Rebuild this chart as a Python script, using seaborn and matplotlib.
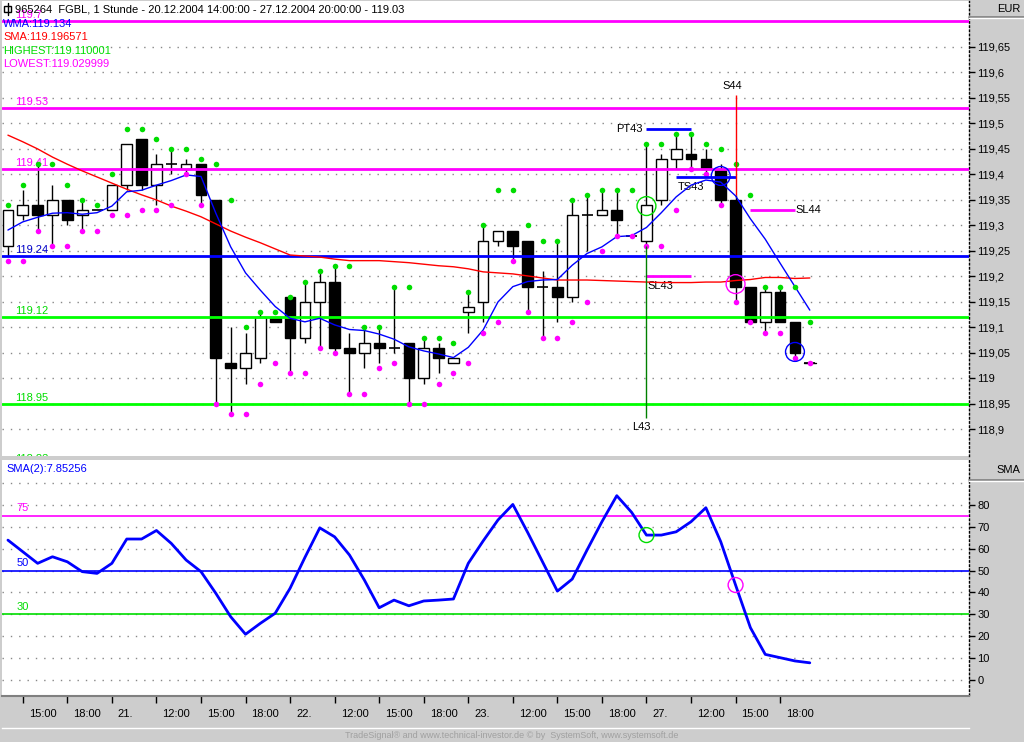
import matplotlib
matplotlib.use('Agg')
import matplotlib.pyplot as plt
import matplotlib.transforms as mtransforms
from matplotlib.lines import Line2D
import numpy as np
import pandas as pd
import seaborn as sns

# ---------------- data ----------------
opens = [119.26, 119.32, 119.34, 119.32, 119.35, 119.32, 119.33, 119.33, 119.38, 119.47,
         119.38, 119.42, 119.41, 119.42, 119.35, 119.03, 119.02, 119.04, 119.12, 119.16,
         119.08, 119.15, 119.19, 119.06, 119.05, 119.07, 119.06, 119.07, 119.00, 119.06,
         119.03, 119.13, 119.15, 119.27, 119.29, 119.27, 119.18, 119.18, 119.16, 119.32,
         119.32, 119.33, 119.28, 119.27, 119.35, 119.43, 119.44, 119.43, 119.41, 119.35,
         119.18, 119.11, 119.17, 119.11, 119.03]
highs = [119.33, 119.37, 119.42, 119.38, 119.35, 119.35, 119.33, 119.38, 119.46, 119.47,
         119.44, 119.45, 119.43, 119.42, 119.35, 119.10, 119.09, 119.13, 119.12, 119.16,
         119.19, 119.21, 119.22, 119.09, 119.10, 119.10, 119.18, 119.07, 119.08, 119.07,
         119.04, 119.17, 119.30, 119.29, 119.29, 119.27, 119.21, 119.27, 119.35, 119.36,
         119.37, 119.37, 119.28, 119.46, 119.44, 119.48, 119.48, 119.45, 119.42, 119.36,
         119.18, 119.18, 119.18, 119.11, 119.03]
lows = [119.24, 119.31, 119.29, 119.26, 119.30, 119.29, 119.33, 119.33, 119.37, 119.37,
        119.34, 119.40, 119.40, 119.34, 118.95, 118.93, 118.99, 119.03, 119.11, 119.01,
        119.07, 119.06, 119.05, 118.97, 119.02, 119.03, 119.05, 118.95, 118.99, 119.01,
        119.03, 119.09, 119.11, 119.26, 119.23, 119.13, 119.08, 119.11, 119.15, 119.25,
        119.32, 119.28, 119.28, 119.26, 119.34, 119.41, 119.41, 119.40, 119.34, 119.15,
        119.11, 119.09, 119.11, 119.04, 119.03]
closes = [119.33, 119.34, 119.32, 119.35, 119.31, 119.33, 119.33, 119.38, 119.46, 119.38,
          119.42, 119.42, 119.42, 119.36, 119.04, 119.02, 119.05, 119.12, 119.11, 119.08,
          119.15, 119.19, 119.06, 119.05, 119.07, 119.06, 119.06, 119.00, 119.06, 119.04,
          119.04, 119.14, 119.27, 119.29, 119.26, 119.18, 119.18, 119.16, 119.32, 119.32,
          119.33, 119.31, 119.28, 119.34, 119.43, 119.45, 119.43, 119.41, 119.35, 119.18,
          119.11, 119.17, 119.11, 119.05, 119.03]
wma = [119.291, 119.307, 119.316, 119.324, 119.325, 119.322, 119.325, 119.338, 119.366, 119.369,
       119.379, 119.388, 119.399, 119.396, 119.324, 119.258, 119.207, 119.173, 119.141, 119.118,
       119.111, 119.118, 119.105, 119.096, 119.094, 119.087, 119.077, 119.062, 119.054, 119.048,
       119.041, 119.061, 119.095, 119.150, 119.180, 119.190, 119.193, 119.194, 119.222, 119.245,
       119.258, 119.278, 119.280, 119.296, 119.325, 119.356, 119.379, 119.389, 119.385, 119.358,
       119.313, 119.273, 119.226, 119.180, 119.134]
sma = [119.477, 119.464, 119.450, 119.434, 119.420, 119.407, 119.395, 119.383, 119.371, 119.360,
       119.350, 119.338, 119.328, 119.317, 119.303, 119.289, 119.277, 119.266, 119.254, 119.242,
       119.240, 119.238, 119.234, 119.231, 119.231, 119.231, 119.229, 119.227, 119.224, 119.221,
       119.219, 119.215, 119.209, 119.207, 119.205, 119.201, 119.197, 119.193, 119.193, 119.193,
       119.192, 119.191, 119.190, 119.189, 119.188, 119.188, 119.188, 119.189, 119.189, 119.192,
       119.194, 119.198, 119.198, 119.196, 119.197]
highest = [119.34, 119.38, 119.42, 119.42, 119.38, 119.35, 119.34, 119.40, 119.49, 119.49,
           119.47, 119.45, 119.45, 119.43, 119.42, 119.35, 119.10, 119.13, 119.13, 119.16,
           119.19, 119.21, 119.22, 119.22, 119.10, 119.10, 119.18, 119.18, 119.08, 119.08,
           119.07, 119.17, 119.30, 119.37, 119.37, 119.30, 119.27, 119.27, 119.35, 119.36,
           119.37, 119.37, 119.37, 119.46, 119.46, 119.48, 119.48, 119.46, 119.45, 119.42,
           119.36, 119.18, 119.18, 119.18, 119.11]
lowest = [119.23, 119.23, 119.29, 119.26, 119.26, 119.29, 119.29, 119.32, 119.32, 119.33,
          119.33, 119.34, 119.40, 119.34, 118.95, 118.93, 118.93, 118.99, 119.03, 119.01,
          119.01, 119.06, 119.05, 118.97, 118.97, 119.02, 119.03, 118.95, 118.95, 118.99,
          119.01, 119.03, 119.09, 119.11, 119.23, 119.13, 119.08, 119.08, 119.11, 119.15,
          119.25, 119.28, 119.28, 119.26, 119.26, 119.33, 119.41, 119.40, 119.34, 119.15,
          119.11, 119.09, 119.09, 119.04, 119.03]
osc = [63.9, 58.6, 53.3, 56.3, 54.0, 49.5, 48.7, 53.3, 64.4, 64.4,
       68.3, 62.4, 54.8, 49.5, 39.6, 28.9, 20.9, 25.9, 30.5, 41.9,
       56.0, 69.5, 65.4, 57.1, 45.7, 33.0, 36.5, 33.9, 36.1, 36.5,
       37.0, 53.3, 63.5, 73.1, 80.2, 67.4, 54.0, 40.6, 46.1, 59.4,
       72.3, 84.2, 76.6, 66.2, 66.2, 67.7, 72.3, 78.7, 63.2, 43.4,
       23.9, 11.7, 10.2, 8.7, 7.85]

time_tick_pos = [1, 4, 7, 10, 13, 16, 19, 22, 25, 28, 31, 34, 37, 40, 43, 46, 49, 52]
time_tick_labels = ['15:00', '18:00', '21.', '12:00', '15:00', '18:00', '22.', '12:00', '15:00',
                    '18:00', '23.', '12:00', '15:00', '18:00', '27.', '12:00', '15:00', '18:00']
price_ticks = [118.90, 118.95, 119.00, 119.05, 119.10, 119.15, 119.20, 119.25,
               119.30, 119.35, 119.40, 119.45, 119.50, 119.55, 119.60, 119.65]
price_tick_labels = ['118,9', '118,95', '119', '119,05', '119,1', '119,15', '119,2', '119,25',
                     '119,3', '119,35', '119,4', '119,45', '119,5', '119,55', '119,6', '119,65']
osc_ticks = [0, 10, 20, 30, 40, 50, 60, 70, 80]

levels = [119.70, 119.53, 119.41, 119.24, 119.12, 118.95, 118.83]
level_labels = ['119.7', '119.53', '119.41', '119.24', '119.12', '118.95', '118.83']
level_colors = ['#ff00ff', '#ff00ff', '#ff00ff', '#0000ff', '#00ff00', '#00ff00', '#00ff00']
level_text_colors = ['#ff00ff', '#ff00ff', '#ff00ff', '#0000c8', '#00dd00', '#00dd00', '#00dd00']

osc_levels = [75, 50, 30]
osc_level_colors = ['#ff00ff', '#0000ff', '#00dd00']

# trade markers: (name, start bar, end bar, price, colour)
seg_names = ['PT43', 'TS43', 'SL43', 'SL44']
seg_start = [43, 45, 43, 50]
seg_end = [46, 49, 46, 53]
seg_price = [119.49, 119.394, 119.20, 119.33]
seg_colors = ['#0000ff', '#0000ff', '#ff00ff', '#ff00ff']

entry_names = ['L43', 'S44']
entry_bar = [43, 49]
entry_from = [119.26, 119.36]
entry_to = [118.923, 119.556]
entry_colors = ['#008000', '#ff0000']

sig_bar = [43, 48, 49, 53]
sig_price = [119.338, 119.397, 119.185, 119.052]
sig_colors = ['#00dd00', '#0000ff', '#ff00ff', '#0000ff']
osc_sig_bar = [43, 49]
osc_sig_colors = ['#00dd00', '#ff00ff']

# ---------------- figure ----------------
W, H = 1024, 742
sns.set_theme(style='white')
plt.rcParams['font.family'] = ['Liberation Sans', 'DejaVu Sans']
BG = '#cdcdcd'
fig = plt.figure(figsize=(W / 100, H / 100), dpi=100, facecolor=BG)


def rect(l, t, r, b):
    return [l / W, 1 - b / H, (r - l) / W, (b - t) / H]


ax1 = fig.add_axes(rect(2, 1, 969, 456), facecolor='white')
ax2 = fig.add_axes(rect(2, 460, 969, 695), facecolor='white', sharex=ax1)
ax3 = fig.add_axes(rect(2, 696, 969, 728), facecolor=BG, sharex=ax1)

idx = np.arange(len(closes))
df = pd.DataFrame({'bar': idx, 'open': opens, 'high': highs, 'low': lows, 'close': closes,
                   'wma': wma, 'sma': sma, 'highest': highest, 'lowest': lowest, 'osc': osc})

# candles
for i, r in df.iterrows():
    if r['high'] > r['low']:
        ax1.vlines(r['bar'], r['low'], r['high'], color='black', lw=1, zorder=3)
    if abs(r['close'] - r['open']) < 1e-9:
        ax1.hlines(r['open'], r['bar'] - 0.37, r['bar'] + 0.37, color='black', lw=1.2, zorder=4)
    else:
        up = r['close'] > r['open']
        ax1.bar(r['bar'], abs(r['close'] - r['open']), bottom=min(r['open'], r['close']),
                width=0.72, color='white' if up else 'black', edgecolor='black',
                linewidth=1, zorder=4)

# level lines
for lv, lab, c, tc in zip(levels, level_labels, level_colors, level_text_colors):
    ax1.axhline(lv, color=c, lw=2, zorder=6)
    ax1.text(0.45, lv + 0.002, lab, color=tc, fontsize=8, ha='left', va='bottom',
             clip_on=True, zorder=6)

sns.lineplot(data=df, x='bar', y='sma', ax=ax1, color='#ff0000', lw=1, zorder=7)
sns.lineplot(data=df, x='bar', y='wma', ax=ax1, color='#0000ff', lw=1, zorder=7)
sns.scatterplot(data=df, x='bar', y='highest', ax=ax1, color='#00dd00', s=16,
                linewidth=0, zorder=8)
sns.scatterplot(data=df, x='bar', y='lowest', ax=ax1, color='#ff00ff', s=16,
                linewidth=0, zorder=8)
ax1.plot([idx[-1] - 0.4, idx[-1] + 0.4], [closes[-1], closes[-1]], color='black', lw=1, zorder=7)

# trade segments
for name, s0, s1, pr, c in zip(seg_names, seg_start, seg_end, seg_price, seg_colors):
    ax1.hlines(pr, s0, s1, color=c, lw=2, zorder=8)
for name, s0, s1, pr in zip(seg_names, seg_start, seg_end, seg_price):
    if name == 'PT43':
        ax1.text(s0 - 0.25, pr, name, fontsize=8, ha='right', va='center', color='black')
    elif name == 'SL44':
        ax1.text(s1 + 0.05, pr, name, fontsize=8, ha='left', va='center', color='black')
    else:
        ax1.text(s0 + 0.1, pr - 0.008, name, fontsize=8, ha='left', va='top', color='black')

for name, b, p0, p1, c in zip(entry_names, entry_bar, entry_from, entry_to, entry_colors):
    ax1.vlines(b, min(p0, p1), max(p0, p1), color=c, lw=1, zorder=8)
    if p1 < p0:
        ax1.text(b - 0.35, p1 - 0.008, name, fontsize=8, ha='center', va='top', color='black')
    else:
        ax1.text(b - 0.25, p1 + 0.008, name, fontsize=8, ha='center', va='bottom', color='black')

ax1.scatter(sig_bar, sig_price, s=185, facecolors='none', edgecolors=sig_colors,
            linewidths=1, zorder=9)

ax1.set_xlim(-0.4, 64.72)
ax1.set_ylim(118.848, 119.740)
ax1.set_xlabel('')
ax1.set_ylabel('')
ax1.yaxis.tick_right()
ax1.set_yticks(price_ticks)
ax1.set_yticklabels(price_tick_labels)
ax1.tick_params(axis='y', which='both', direction='out', length=4, width=1, pad=2,
                labelsize=8, colors='black', right=True, left=False)
ax1.tick_params(axis='x', bottom=False, labelbottom=False)
ax1.yaxis.grid(True, linestyle=(0, (1, 5)), color='#888888', lw=1)
ax1.xaxis.grid(False)

# ---------------- oscillator ----------------
for lv, c in zip(osc_levels, osc_level_colors):
    ax2.axhline(lv, color=c, lw=1.2, zorder=3)
    ax2.text(0.6, lv + 1.2, str(lv), color=c, fontsize=8, ha='left', va='bottom')
ax2.axhline(90, color='#888888', lw=1, linestyle=(0, (1, 5)), zorder=1)
sns.lineplot(data=df, x='bar', y='osc', ax=ax2, color='#0000ff', lw=2, zorder=5)
ax2.scatter(osc_sig_bar, [osc[b] for b in osc_sig_bar], s=115, facecolors='none',
            edgecolors=osc_sig_colors, linewidths=1, zorder=6)
ax2.text(0.005, 0.96, 'SMA(2):7.85256', transform=ax2.transAxes, color='#0000ff',
         fontsize=8, ha='left', va='center')
ax2.set_ylim(-6.85, 100.5)
ax2.set_xlabel('')
ax2.set_ylabel('')
ax2.yaxis.tick_right()
ax2.set_yticks(osc_ticks)
ax2.set_yticklabels([str(t) for t in osc_ticks])
ax2.tick_params(axis='y', direction='out', length=4, width=1, pad=2, labelsize=8,
                colors='black', right=True, left=False)
ax2.tick_params(axis='x', bottom=False, labelbottom=False)
ax2.yaxis.grid(True, linestyle=(0, (1, 5)), color='#888888', lw=1)
ax2.xaxis.grid(False)

for ax in (ax1, ax2):
    for s in ('left', 'top', 'bottom'):
        ax.spines[s].set_visible(False)
    ax.spines['right'].set_linestyle((0, (1, 2)))
    ax.spines['right'].set_color('black')
    ax.spines['right'].set_linewidth(1)

# ---------------- time axis strip ----------------
ax3.set_yticks([])
ax3.set_xticks(time_tick_pos)
ax3.tick_params(axis='x', top=True, bottom=False, direction='in', length=5, width=1,
                color='black', labeltop=False, labelbottom=False)
for s in ('left', 'right'):
    ax3.spines[s].set_visible(False)
ax3.spines['top'].set_color('#808080')
ax3.spines['top'].set_linewidth(1.5)
ax3.spines['bottom'].set_color('white')
ax3.spines['bottom'].set_linewidth(1)
tr = mtransforms.blended_transform_factory(ax3.transData, ax3.transAxes) + \
    mtransforms.ScaledTranslation(6 / 100, 0, fig.dpi_scale_trans)
for p, lab in zip(time_tick_pos, time_tick_labels):
    ax3.text(p, 0.45, lab, transform=tr, fontsize=8, ha='left', va='center', color='black')

# ---------------- header / legend texts ----------------
def ftext(x, y, s, **kw):
    fig.text(x / W, 1 - y / H, s, **kw)


ftext(15, 9, '965264  FGBL, 1 Stunde - 20.12.2004 14:00:00 - 27.12.2004 20:00:00 - 119.03',
      fontsize=8, color='black', va='center', ha='left')
fig.add_artist(plt.Rectangle((4 / W, 1 - 12 / H), 7 / W, 6 / H, fill=False,
                             edgecolor='black', lw=1, transform=fig.transFigure))
fig.add_artist(Line2D([7.5 / W, 7.5 / W], [1 - 3 / H, 1 - 15 / H], color='black', lw=1,
                      transform=fig.transFigure))
ftext(3, 24, 'WMA:119.134', fontsize=8, color='#0000ff', va='center')
ftext(3, 37, 'SMA:119.196571', fontsize=8, color='#ff0000', va='center')
ftext(3, 51, 'HIGHEST:119.110001', fontsize=8, color='#00dd00', va='center')
ftext(3, 64, 'LOWEST:119.029999', fontsize=8, color='#ff00ff', va='center')

ftext(1020, 9, 'EUR', fontsize=8, color='black', va='center', ha='right')
ftext(1020, 470, 'SMA', fontsize=8, color='black', va='center', ha='right')
for y in (17, 480):
    fig.add_artist(Line2D([969 / W, 1], [1 - y / H, 1 - y / H], color='#808080', lw=1.2,
                          transform=fig.transFigure))
    fig.add_artist(Line2D([969 / W, 1], [1 - (y + 1) / H, 1 - (y + 1) / H], color='white',
                          lw=1, transform=fig.transFigure))

ftext(512, 736, 'TradeSignal\u00ae and www.technical-investor.de \u00a9 by  SystemSoft, www.systemsoft.de',
      fontsize=6.5, color='#a0a0a0', va='center', ha='center')

fig.savefig('out.png', dpi=100, facecolor=BG)
